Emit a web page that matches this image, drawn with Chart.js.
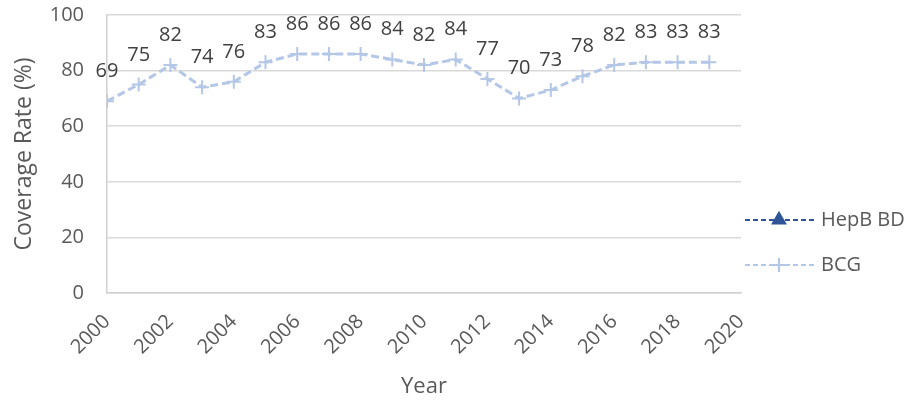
<!DOCTYPE html>
<html>
<head>
<meta charset="utf-8">
<script src="https://cdn.jsdelivr.net/npm/chart.js@4"></script>
<style>
  html, body { margin: 0; padding: 0; background: #fff; }
  #wrap { width: 908px; height: 403px; }
</style>
</head>
<body>
<div id="wrap"><canvas id="myChart"></canvas></div>
<script>
const years = [2000, 2001, 2002, 2003, 2004, 2005, 2006, 2007, 2008, 2009,
               2010, 2011, 2012, 2013, 2014, 2015, 2016, 2017, 2018, 2019];
const bcgValues = [69, 75, 82, 74, 76, 83, 86, 86, 86, 84,
                   82, 84, 77, 70, 73, 78, 82, 83, 83, 83];
const hepbValues = [];   // no points shown for HepB BD
const yTicks = [0, 20, 40, 60, 80, 100];

const fontName = "'Open Sans', 'Liberation Sans', sans-serif";
const hepbColor = "#2F5597";
const bcgColor = "#B4C7E7";

// value labels above each point
const pointLabels = {
    id: "pointLabels",
    afterDatasetsDraw(chart) {
        const ctx = chart.ctx;
        const meta = chart.getDatasetMeta(1);
        ctx.save();
        ctx.font = "20px " + fontName;
        ctx.fillStyle = "#404040";
        ctx.textAlign = "center";
        ctx.textBaseline = "alphabetic";
        meta.data.forEach((pt, i) => {
            ctx.fillText(String(bcgValues[i]), pt.x, pt.y - 24);
        });
        ctx.restore();
    }
};

// Excel-like legend on the right
const sideLegend = {
    id: "sideLegend",
    afterDraw(chart) {
        const ctx = chart.ctx;
        const left = chart.chartArea.right + 4;
        const items = [
            { text: "HepB BD", color: hepbColor, style: "triangle", y: 220 },
            { text: "BCG", color: bcgColor, style: "cross", y: 265 }
        ];
        ctx.save();
        items.forEach(it => {
            ctx.strokeStyle = it.color;
            ctx.lineWidth = 2.2;
            ctx.setLineDash([5, 3]);
            ctx.beginPath();
            ctx.moveTo(left, it.y);
            ctx.lineTo(left + 69, it.y);
            ctx.stroke();
            ctx.setLineDash([]);
            ctx.fillStyle = it.color;
            Chart.helpers.drawPoint(ctx, {
                pointStyle: it.style, radius: 7, borderWidth: 1.8, rotation: 0
            }, left + 34, it.y);
            if (it.style === "triangle") ctx.fill();
            ctx.font = "20px " + fontName;
            ctx.fillStyle = "#595959";
            ctx.textAlign = "left";
            ctx.textBaseline = "middle";
            ctx.fillText(it.text, left + 76, it.y);
        });
        ctx.restore();
    }
};

new Chart(document.getElementById("myChart"), {
    type: "line",
    data: {
        datasets: [
            {
                label: "HepB BD",
                data: hepbValues,
                borderColor: hepbColor,
                backgroundColor: hepbColor,
                pointStyle: "triangle",
                borderDash: [6, 4],
                borderWidth: 2
            },
            {
                label: "BCG",
                data: years.map((y, i) => ({ x: y, y: bcgValues[i] })),
                borderColor: bcgColor,
                backgroundColor: bcgColor,
                borderDash: [8, 4],
                borderWidth: 3,
                pointStyle: "cross",
                pointRadius: 7,
                pointBorderWidth: 2,
                pointBorderColor: bcgColor,
                tension: 0
            }
        ]
    },
    options: {
        responsive: true,
        maintainAspectRatio: false,
        animation: false,
        layout: { padding: { left: 0, right: 167, top: 0, bottom: 0 } },
        plugins: {
            legend: { display: false },
            tooltip: { enabled: false }
        },
        scales: {
            x: {
                type: "linear",
                min: 2000,
                max: 2020,
                afterFit: (axis) => { axis.height = 110; },
                grid: { display: false },
                border: { display: true, color: "#d0d0d0", width: 1.5 },
                ticks: {
                    stepSize: 2,
                    autoSkip: false,
                    minRotation: 45,
                    maxRotation: 45,
                    padding: 9,
                    color: "#595959",
                    font: { family: fontName, size: 20 },
                    callback: (v) => String(v)
                },
                title: {
                    display: true,
                    text: "Year",
                    color: "#595959",
                    font: { family: fontName, size: 22 },
                    padding: { top: 0, bottom: 3 }
                }
            },
            y: {
                min: 0,
                max: 100,
                afterFit: (axis) => { axis.width = 107; },
                afterBuildTicks: (axis) => { axis.ticks = yTicks.map(v => ({ value: v })); },
                grid: { color: "#d9d9d9", lineWidth: 1.5, drawTicks: true, tickLength: 20, tickColor: "rgba(0,0,0,0)" },
                border: { display: true, color: "#d0d0d0", width: 1.5 },
                ticks: {
                    padding: 3,
                    color: "#595959",
                    font: { family: fontName, size: 20 }
                },
                title: {
                    display: true,
                    text: "Coverage Rate (%)",
                    color: "#595959",
                    font: { family: fontName, size: 23 },
                    padding: { top: 11, bottom: 0 }
                }
            }
        }
    },
    plugins: [pointLabels, sideLegend]
});
</script>
</body>
</html>
